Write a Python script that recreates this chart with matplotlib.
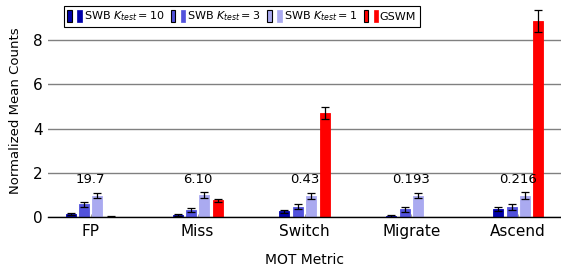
import matplotlib.pyplot as plt
from matplotlib.patches import Rectangle
from matplotlib.legend_handler import HandlerTuple
import numpy as np

plt.rcParams['font.family'] = 'DejaVu Sans'
plt.rcParams['mathtext.fontset'] = 'dejavusans'

metrics = ["FP", "Miss", "Switch", "Migrate", "Ascend"]
labels = [r"SWB $K_{test}=10$", r"SWB $K_{test}=3$", r"SWB $K_{test}=1$", "GSWM"]
colors = ["#0000AA", "#5252DC", "#AAAAF0", "#FF0000"]

swb10 = [0.15, 0.09, 0.27, 0.06, 0.38]
swb10_err = [0.06, 0.04, 0.08, 0.04, 0.08]
swb3 = [0.58, 0.32, 0.48, 0.36, 0.48]
swb3_err = [0.11, 0.08, 0.11, 0.10, 0.13]
swb1 = [0.98, 1.0, 0.97, 0.97, 0.97]
swb1_err = [0.13, 0.14, 0.14, 0.11, 0.16]
gswm = [0.03, 0.77, 4.70, 0.0, 8.85]
gswm_err = [0.01, 0.06, 0.25, 0.0, 0.48]

norm_text = ["19.7", "6.10", "0.43", "0.193", "0.216"]

series = [(swb10, swb10_err), (swb3, swb3_err), (swb1, swb1_err), (gswm, gswm_err)]

fig = plt.figure(figsize=(5.61, 2.66), dpi=100)
ax = fig.add_axes([48 / 561, 1 - 217.3 / 266, 513 / 561, 217.3 / 266 * 0.98])

x = np.arange(len(metrics))
width = 0.094
pitch = 0.125
for i, (vals, errs) in enumerate(series):
    off = (i - 1.5) * pitch
    ax.bar(x + off, vals, width, color=colors[i], edgecolor=colors[i],
           linewidth=0.6, zorder=3,
           yerr=[e if e > 0 else np.nan for e in errs],
           error_kw=dict(ecolor='black', elinewidth=0.9, capsize=3, capthick=0.9))

for xi, t in zip(x, norm_text):
    ax.text(xi, 1.7, t, ha='center', va='center', fontsize=9.5, zorder=4)

ax.set_xlim(-0.4, 4.4)
ax.set_ylim(0, 9.6)
ax.set_yticks([0, 2, 4, 6, 8])
ax.set_xticks(x)
ax.set_xticklabels(metrics, fontsize=11)
ax.tick_params(axis='y', labelsize=11, length=0, pad=4)
ax.tick_params(axis='x', length=2.5, direction='in', width=0.5, color='gray', pad=5)
ax.yaxis.grid(True, color='#808080', linewidth=1.0, zorder=0)
ax.set_axisbelow(True)
for s in ['top', 'right', 'left']:
    ax.spines[s].set_visible(False)
ax.spines['bottom'].set_linewidth(1.0)
ax.spines['bottom'].set_zorder(5)

ax.set_xlabel("MOT Metric", fontsize=10, labelpad=10)
ax.set_ylabel("Normalized Mean Counts", fontsize=9.5, labelpad=8)

handles = []
for c in colors:
    h1 = Rectangle((0, 0), 1, 1, facecolor=c, edgecolor='black', linewidth=0.8)
    h2 = Rectangle((0, 0), 1, 1, facecolor=c, edgecolor=c, linewidth=0.5)
    handles.append((h1, h2))
leg = ax.legend(handles, labels, handler_map={tuple: HandlerTuple(ndivide=None, pad=0.5)},
                ncol=4, loc='upper left', bbox_to_anchor=(10 / 513, 1.02),
                fontsize=8, handlelength=1.3, handleheight=1.4, handletextpad=0.15,
                columnspacing=0.6, borderpad=0.35, frameon=True, fancybox=False,
                edgecolor='black', framealpha=1)
leg.get_frame().set_linewidth(0.8)

fig.savefig("out.png", dpi=100)
